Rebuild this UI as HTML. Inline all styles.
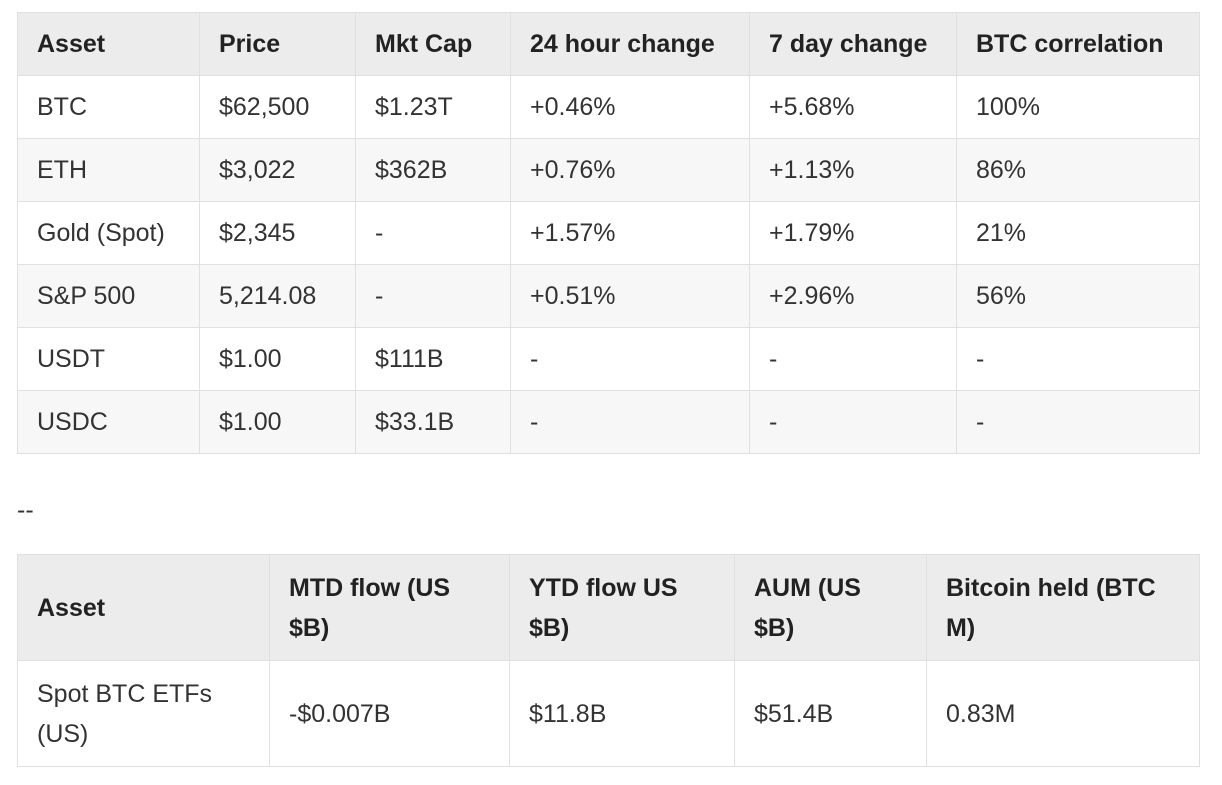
<!DOCTYPE html>
<html><head><meta charset="utf-8"><style>
body{margin:0;background:#fff;width:1222px;height:785px;overflow:hidden;font-family:"Liberation Sans",sans-serif;color:#333;}
table{position:absolute;left:17px;border-collapse:collapse;table-layout:fixed;font-size:25px;}
td,th{border:1px solid #e0e0e0;padding:0 0 0 19px;text-align:left;vertical-align:middle;}
th{font-weight:bold;background:#ececec;color:#222;}
#t1 td,#t1 th{height:62px;}
#t1 tr.alt td{background:#f7f7f7;}
#t2 th,#t2 td{height:105px;line-height:40px;}
#dash{position:absolute;left:17px;top:496px;font-size:25px;}
</style></head><body>
<table id="t1" style="top:12px;width:1182px">
<colgroup><col style="width:182px"><col style="width:156px"><col style="width:155px"><col style="width:239px"><col style="width:207px"><col style="width:243px"></colgroup>
<tr><th>Asset</th><th>Price</th><th>Mkt Cap</th><th>24 hour change</th><th>7 day change</th><th>BTC correlation</th></tr>
<tr><td>BTC</td><td>$62,500</td><td>$1.23T</td><td>+0.46%</td><td>+5.68%</td><td>100%</td></tr>
<tr class="alt"><td>ETH</td><td>$3,022</td><td>$362B</td><td>+0.76%</td><td>+1.13%</td><td>86%</td></tr>
<tr><td>Gold (Spot)</td><td>$2,345</td><td>-</td><td>+1.57%</td><td>+1.79%</td><td>21%</td></tr>
<tr class="alt"><td>S&amp;P 500</td><td>5,214.08</td><td>-</td><td>+0.51%</td><td>+2.96%</td><td>56%</td></tr>
<tr><td>USDT</td><td>$1.00</td><td>$111B</td><td>-</td><td>-</td><td>-</td></tr>
<tr class="alt"><td>USDC</td><td>$1.00</td><td>$33.1B</td><td>-</td><td>-</td><td>-</td></tr>
</table>
<div id="dash">--</div>
<table id="t2" style="top:554px;width:1182px">
<colgroup><col style="width:252px"><col style="width:240px"><col style="width:225px"><col style="width:192px"><col style="width:273px"></colgroup>
<tr><th>Asset</th><th>MTD flow (US<br>$B)</th><th>YTD flow US<br>$B)</th><th>AUM (US<br>$B)</th><th>Bitcoin held (BTC<br>M)</th></tr>
<tr><td>Spot BTC ETFs<br>(US)</td><td>-$0.007B</td><td>$11.8B</td><td>$51.4B</td><td>0.83M</td></tr>
</table>
</body></html>
